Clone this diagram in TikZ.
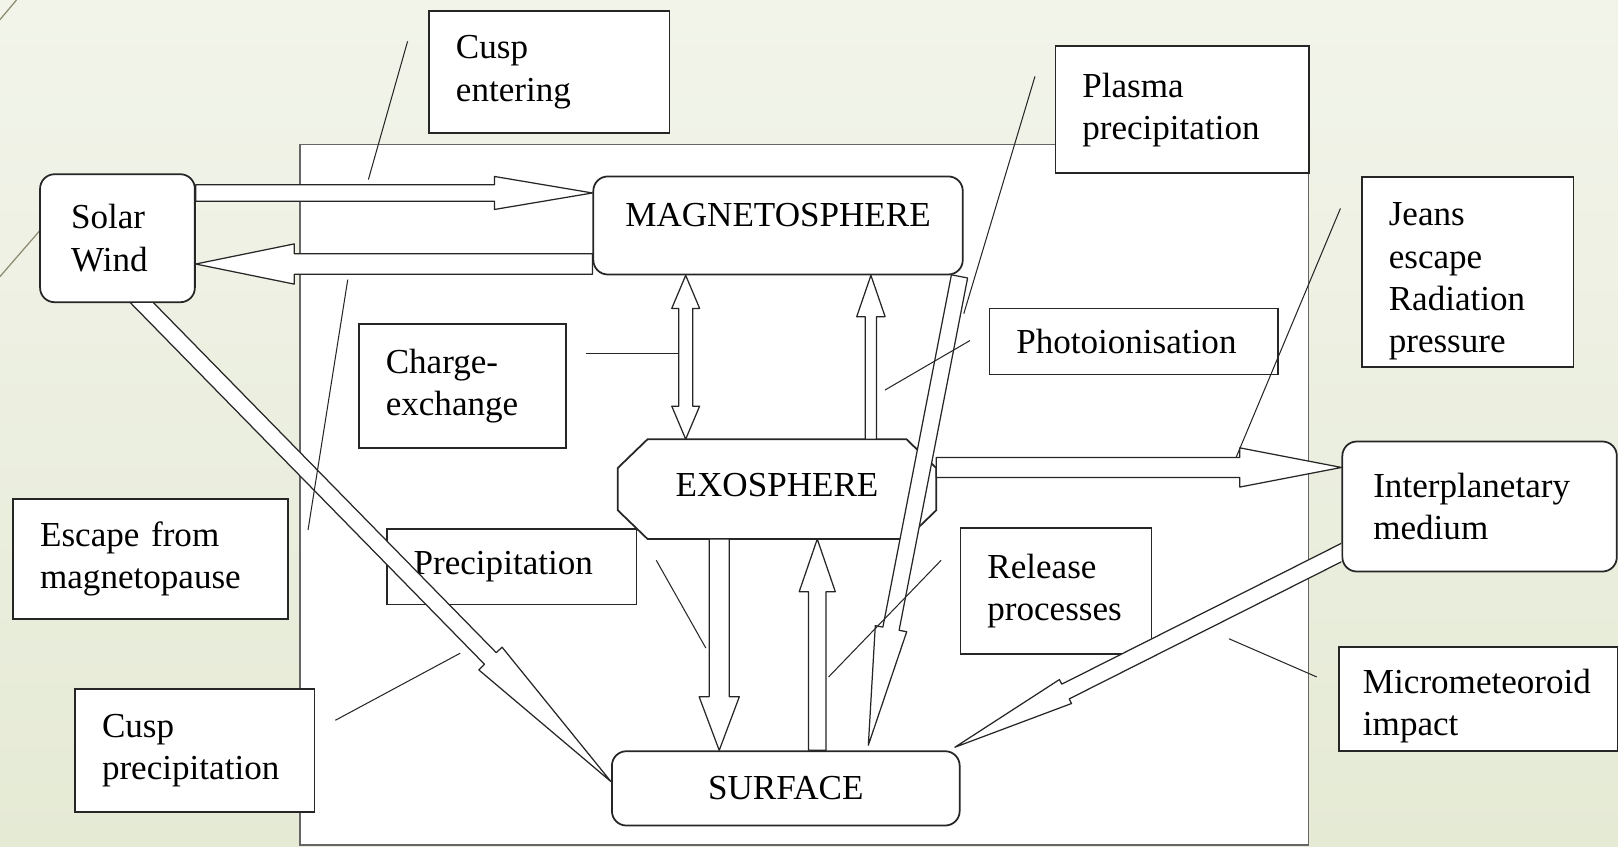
\documentclass[tikz,border=0pt]{standalone}
\usepackage{fontspec}
\setmainfont{Liberation Serif}
\usetikzlibrary{positioning,calc}
\definecolor{bgtop}{RGB}{242,244,234}
\definecolor{bgbot}{RGB}{229,234,213}
\definecolor{decoline}{RGB}{140,138,112}
\tikzset{lbox/.style={draw=black!85,fill=white,line width=0.85pt,anchor=north west,align=left,inner xsep=13pt,inner ysep=3pt},
	 rbox/.style={lbox,rounded corners=7pt},
	 cbox/.style={draw=black!85,fill=white,line width=0.85pt,rounded corners=7pt},
	 xbox/.style={draw=black!85,line width=0.85pt},
	 barr/.style={draw=black!85,fill=white,line width=0.6pt,line join=round},
	 callout/.style={draw=black!85,line width=0.5pt},
	 deco/.style={draw=decoline,line width=0.6pt}
	 }
% block arrow: from, to, shaft width, head width, head length
\newcommand{\blockarr}[5]{%
  \draw[barr] let \p1=(#1), \p2=(#2), \n1={atan2(\y2-\y1,\x2-\x1)}, \n2={veclen(\x2-\x1,\y2-\y1)} in
    ($(\p1)+({\n1+90}:{#3/2})$) -- ($(\p1)+(\n1:{\n2-#5})+({\n1+90}:{#3/2})$)
    -- ($(\p1)+(\n1:{\n2-#5})+({\n1+90}:{#4/2})$) -- (\p2)
    -- ($(\p1)+(\n1:{\n2-#5})+({\n1-90}:{#4/2})$) -- ($(\p1)+(\n1:{\n2-#5})+({\n1-90}:{#3/2})$)
    -- ($(\p1)+({\n1-90}:{#3/2})$) -- cycle;}
\newcommand{\dblockarr}[5]{%
  \draw[barr] let \p1=(#1), \p2=(#2), \n1={atan2(\y2-\y1,\x2-\x1)}, \n2={veclen(\x2-\x1,\y2-\y1)} in
    (\p1) -- ($(\p1)+(\n1:#5)+({\n1+90}:{#4/2})$) -- ($(\p1)+(\n1:#5)+({\n1+90}:{#3/2})$)
    -- ($(\p1)+(\n1:{\n2-#5})+({\n1+90}:{#3/2})$) -- ($(\p1)+(\n1:{\n2-#5})+({\n1+90}:{#4/2})$)
    -- (\p2) -- ($(\p1)+(\n1:{\n2-#5})+({\n1-90}:{#4/2})$) -- ($(\p1)+(\n1:{\n2-#5})+({\n1-90}:{#3/2})$)
    -- ($(\p1)+(\n1:#5)+({\n1-90}:{#3/2})$) -- ($(\p1)+(\n1:#5)+({\n1-90}:{#4/2})$) -- cycle;}

\begin{document}
\begin{tikzpicture}[x=0.5pt,y=-0.5pt,font=\fontsize{17}{20.5}\selectfont] % exosphere sources and sinks
	\shade[top color=bgtop,bottom color=bgbot] (0,0) rectangle (1568,820);
	\useasboundingbox (0,0) rectangle (1568,820);
	\draw[deco] (16,0) -- (0,19);
	\draw[deco] (0,268) -- (39,223);
	\draw[draw=black!60,fill=white,line width=0.8pt] (291,140) rectangle (1268,819);

	\node[lbox, text width=90.5pt, minimum height=59pt] (cent) at (415,10) {Cusp\\entering};
	\node[lbox, text width=97pt, minimum height=61.5pt] (plas) at (1022,44) {Plasma\\precipitation};
	\node[rbox, inner xsep=15pt, text width=45pt, minimum height=62pt] (sw) at (38,168) {Solar\\Wind};
	\node[cbox, minimum width=179pt, minimum height=47.5pt, text depth=10.1pt] (mag) at (754,218.5) {MAGNETOSPHERE};
	\node[lbox, text width=76.5pt, minimum height=92pt, text height=20pt] (jean) at (1319,171) {Jeans\\escape\\Radiation\\pressure};
	\node[lbox, text width=114pt, minimum height=32pt] (phot) at (958,298) {Photoionisation};
	\node[lbox, text width=74.5pt, minimum height=60pt] (chex) at (347,313) {Charge-\\exchange};
	\node[minimum width=154pt, minimum height=48pt, text depth=4.3pt] (exo) at (753,474) {EXOSPHERE};
	\draw[xbox] ($(exo.north west)+(29,0)$) -- ($(exo.north east)+(-29,0)$) -- ($(exo.north east)+(0,28)$)
		-- ($(exo.south east)+(0,-28)$) -- ($(exo.south east)+(-29,0)$) -- ($(exo.south west)+(29,0)$)
		-- ($(exo.south west)+(0,-28)$) -- ($(exo.north west)+(0,28)$) -- cycle;
	\node[rbox, inner xsep=15pt, text width=103pt, minimum height=63pt] (ipm) at (1300,427) {Interplanetary\\medium};
	\node[lbox, text width=107pt, minimum height=58pt] (esc) at (12,483) {Escape from\\magnetopause};
	\node[lbox, text width=95pt, minimum height=36.5pt] (prec) at (374,512) {Precipitation};
	\node[lbox, text width=66.5pt, minimum height=61pt] (rel) at (930,511) {Release\\processes};
	\node[lbox, inner xsep=11.5pt, text width=112pt, minimum height=50.5pt, text height=18.6pt] (mic) at (1297,626) {Micrometeoroid\\impact};
	\node[lbox, text width=90pt, minimum height=59.5pt] (cpre) at (72,667) {Cusp\\precipitation};
	\node[cbox, minimum width=168.5pt, minimum height=36pt] (surf) at (761.5,764) {SURFACE};

	\coordinate (a1) at ($(sw.north east)+(0,19)$);
	\coordinate (a2) at ($(mag.south west)+(0,-11)$);
	\coordinate (a3) at ($(mag.south)+(-89.5,0)$);
	\coordinate (a4) at ($(exo.north)+(91,0)$);
	\coordinate (a5) at ($(mag.south east)+(-4,1)$);
	\coordinate (a6) at ($(exo.south)+(-56,0)$);
	\coordinate (a7) at ($(surf.north)+(30.5,0)$);
	\coordinate (a8) at ($(exo.east)+(0,-21)$);
	\coordinate (a9) at ($(ipm.south west)+(10,-24.3)$);
	\coordinate (a10) at ($(sw.south)+(16.2,-8)$);

	\blockarr{a1}{mag.west |- a1}{8pt}{16pt}{47.5pt}
	\blockarr{a2}{sw.east |- a2}{10pt}{19.5pt}{47.75pt}
	\dblockarr{a3}{a3 |- exo.north}{6.75pt}{13.5pt}{16pt}
	\blockarr{a4}{a4 |- mag.south}{5.5pt}{13.75pt}{20pt}
	\blockarr{a5}{$(surf.north)+(80,-5)$}{8pt}{15.5pt}{57.5pt}
	\blockarr{a6}{a6 |- surf.north}{9.75pt}{19.5pt}{26pt}
	\blockarr{a7}{a7 |- exo.south}{8.5pt}{17.5pt}{25.5pt}
	\blockarr{a8}{ipm.west |- a8}{9.75pt}{19pt}{49.25pt}
	\begin{scope}
		\clip (0,0) rectangle (ipm.west |- 0,820);
		\blockarr{a9}{$(surf.north east)+(-5.5,-3)$}{8pt}{13pt}{60pt}
	\end{scope}
	\begin{scope}
		\clip (0,0 |- sw.south) rectangle (1568,820);
		\blockarr{a10}{$(surf.west)+(0,-6.5)$}{8pt}{15.75pt}{83.5pt}
	\end{scope}

	\coordinate (l1) at (395,40);   \coordinate (m1) at (357,174);
	\coordinate (l2) at (337,271);  \coordinate (m2) at (298.5,513.6);
	\coordinate (l3) at (568,343);  \coordinate (m3) at (657.5,343);
	\coordinate (l4) at (940,330);  \coordinate (m4) at (857.6,378);
	\coordinate (l5) at (1003,74);  \coordinate (m5) at (934,304);
	\coordinate (l6) at (1299,202); \coordinate (m6) at (1198,443);
	\coordinate (l7) at (636,543);  \coordinate (m7) at (684,628);
	\coordinate (l8) at (912,543);  \coordinate (m8) at (803,656);
	\coordinate (l9) at (1191,619); \coordinate (m9) at (1276,656);
	\coordinate (l10) at (325,698); \coordinate (m10) at (446,633);
	\draw[callout] (l1) -- (m1);
	\draw[callout] (l2) -- (m2);
	\draw[callout] (l3) -- (m3);
	\draw[callout] (l4) -- (m4);
	\draw[callout] (l5) -- (m5);
	\draw[callout] (l6) -- (m6);
	\draw[callout] (l7) -- (m7);
	\draw[callout] (l8) -- (m8);
	\draw[callout] (l9) -- (m9);
	\draw[callout] (l10) -- (m10);
\end{tikzpicture}
\end{document}
